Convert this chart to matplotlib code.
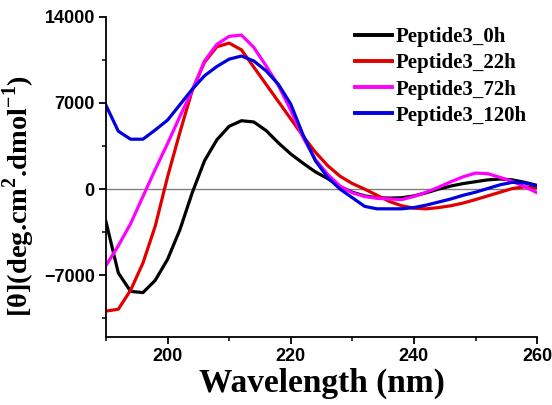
import numpy as np
import matplotlib.pyplot as plt

plt.rcParams['mathtext.fontset'] = 'custom'
plt.rcParams['mathtext.rm'] = 'Liberation Serif:bold'
plt.rcParams['mathtext.bf'] = 'Liberation Serif:bold'

# wavelength (nm), every 2 nm
wavelength = np.arange(190, 261, 2)

# mean residue ellipticity
pep_0h = [-2650, -6800, -8300, -8400, -7400, -5700, -3300, -300, 2300, 4000,
          5100, 5550, 5450, 4750, 3750, 2850, 2100, 1400, 850, 200,
          -250, -550, -700, -730, -700, -550, -300, 0, 250, 450,
          600, 750, 820, 750, 550, 300]
pep_22h = [-9900, -9750, -8200, -6000, -3000, 1000, 4600, 8000, 10300, 11550,
           11850, 11300, 9900, 8500, 7100, 5700, 4300, 3000, 1900, 1050,
           450, 0, -500, -1000, -1350, -1550, -1600, -1500, -1350, -1130,
           -850, -550, -250, 50, 180, 100]
pep_72h = [-6200, -4600, -2800, -600, 1600, 3700, 5900, 8000, 10400, 11750,
           12400, 12500, 11500, 10000, 8400, 6400, 4200, 2400, 1200, 250,
           -300, -600, -750, -800, -850, -600, -250, 150, 600, 1000,
           1300, 1250, 950, 620, 200, -300]
pep_120h = [6800, 4700, 4050, 4050, 4800, 5600, 6850, 8100, 9200, 9950,
            10550, 10800, 10400, 9600, 8500, 6900, 4400, 2300, 950, 0,
            -700, -1400, -1600, -1600, -1600, -1500, -1300, -1050, -800, -500,
            -250, 50, 350, 550, 500, 250]

series = [pep_0h, pep_22h, pep_72h, pep_120h]
labels = ['Peptide3_0h', 'Peptide3_22h', 'Peptide3_72h', 'Peptide3_120h']
colors = ['black', '#e00000', '#ff00ff', '#0000e0']

fig = plt.figure(figsize=(5.52, 4.05), dpi=100)
ax = fig.add_axes([0.192, 0.168, 0.781, 0.791])

ax.axhline(0, color='gray', lw=1.0, zorder=1)
for y, lab, c in zip(series, labels, colors):
    ax.plot(wavelength, y, color=c, lw=2.3, label=lab, zorder=2)

ax.set_xlim(190, 260)
ax.set_ylim(-12000, 14000)
ax.set_xticks([200, 220, 240, 260])
ax.set_xticks([190, 210, 230, 250], minor=True)
ax.set_yticks([-7000, 0, 7000, 14000])
ax.set_yticks([-10500, -3500, 3500, 10500], minor=True)

for s in ['top', 'right']:
    ax.spines[s].set_visible(False)
for s in ['left', 'bottom']:
    ax.spines[s].set_linewidth(1.3)

ax.tick_params(which='major', direction='out', length=5, width=1.3, pad=3)
ax.tick_params(which='minor', direction='out', length=3, width=1.1)
for t in ax.get_xticklabels() + ax.get_yticklabels():
    t.set_fontfamily('Liberation Sans')
    t.set_fontweight('bold')
    t.set_fontsize(13)

ax.set_xlabel('Wavelength (nm)', fontfamily='Liberation Serif', fontweight='bold',
              fontsize=24, labelpad=2)
ax.set_ylabel(r'[θ](deg.cm$^{\mathbf{2}}$.dmol$^{\mathbf{-1}}$)',
              fontfamily='Liberation Serif', fontweight='bold', fontsize=20.5)
ax.yaxis.set_label_coords(-0.16, 0.44)

leg = ax.legend(loc='upper right', frameon=False, handlelength=1.8, handletextpad=0.15,
                labelspacing=0.3, borderaxespad=0.1, bbox_to_anchor=(1.0, 1.0),
                prop={'family': 'Liberation Serif', 'weight': 'bold', 'size': 15})
for line in leg.get_lines():
    line.set_linewidth(2.8)

fig.savefig('out.png', dpi=100)
